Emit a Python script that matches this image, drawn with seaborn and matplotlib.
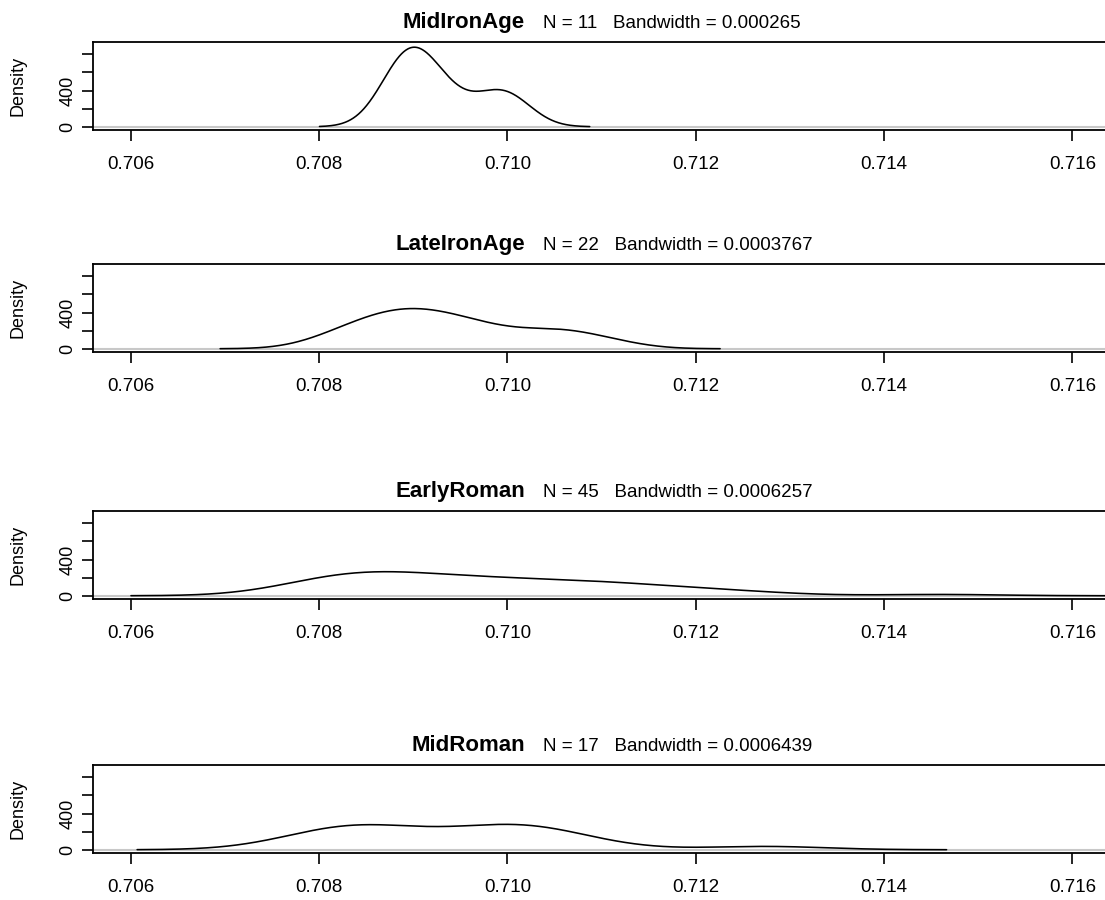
import numpy as np
import pandas as pd
import matplotlib
matplotlib.use("Agg")
import matplotlib.pyplot as plt
import seaborn as sns

# 87Sr/86Sr values per period (estimated from the density curves)
periods = ["MidIronAge", "LateIronAge", "EarlyRoman", "MidRoman"]
bandwidths = [0.000265, 0.0003767, 0.0006257, 0.0006439]
bw_labels = ["0.000265", "0.0003767", "0.0006257", "0.0006439"]

mid_iron_age = [0.70880, 0.70884, 0.70891, 0.70899, 0.70905, 0.70911,
                0.70922, 0.70943, 0.70982, 0.70995, 0.71008]

late_iron_age = [0.708080, 0.708263, 0.708431, 0.708556, 0.708658, 0.708754,
                 0.708842, 0.708930, 0.709017, 0.709104, 0.709201, 0.709305,
                 0.709408, 0.709527, 0.709660, 0.709800, 0.710000, 0.710300,
                 0.710480, 0.710620, 0.710780, 0.711130]

early_roman = [0.707880, 0.707936, 0.707993, 0.708049, 0.708105, 0.708162,
               0.708224, 0.708280, 0.708349, 0.708418, 0.708487, 0.708556,
               0.708625, 0.708693, 0.708768, 0.708850, 0.708937, 0.709025,
               0.709119, 0.709206, 0.709300, 0.709394, 0.709494, 0.709601,
               0.709707, 0.709807, 0.709914, 0.710020, 0.710133, 0.710258,
               0.710383, 0.710508, 0.710633, 0.710758, 0.710883, 0.711009,
               0.711134, 0.711259, 0.711415, 0.711615, 0.711822, 0.712072,
               0.712354, 0.712698, 0.714600]

mid_roman = [0.708000, 0.708077, 0.708180, 0.708296, 0.708438, 0.708592,
             0.708773, 0.708966, 0.709610, 0.709829, 0.709964, 0.710077,
             0.710186, 0.710299, 0.710434, 0.710653, 0.712733]

x_ticks = [0.706, 0.708, 0.710, 0.712, 0.714, 0.716]
x_tick_labels = ["0.706", "0.708", "0.710", "0.712", "0.714", "0.716"]
y_ticks = [0, 200, 400, 600, 800]
y_tick_labels = ["0", "", "400", "", ""]

samples = [mid_iron_age, late_iron_age, early_roman, mid_roman]
df = pd.concat([pd.DataFrame({"period": p, "ratio": v}) for p, v in zip(periods, samples)],
               ignore_index=True)

sns.set_theme(style="ticks", rc={
    "axes.linewidth": 1.3, "axes.edgecolor": "black",
    "xtick.major.size": 8, "ytick.major.size": 8,
    "xtick.major.width": 1.2, "ytick.major.width": 1.2,
    "xtick.color": "black", "ytick.color": "black",
    "text.color": "black",
})
plt.rcParams["font.family"] = ["Liberation Sans", "DejaVu Sans"]

W, H = 1105, 900
fig = plt.figure(figsize=(W / 100, H / 100), dpi=100)

# panel boxes in pixels: (top, bottom); right edge falls just outside the image
panel_px = [(42, 130), (264, 352), (511, 599), (765, 853)]
left_px, right_px = 93, 1110

for i, (period, (top, bot)) in enumerate(zip(periods, panel_px)):
    ax = fig.add_axes([left_px / W, 1 - bot / H, (right_px - left_px) / W, (bot - top) / H])
    sub = df[df["period"] == period]
    vals = sub["ratio"].to_numpy()
    ax.axhline(0, color="#c8c8c8", lw=1.5, zorder=1)
    sns.kdeplot(data=sub, x="ratio", bw_method=bandwidths[i] / np.std(vals, ddof=1),
                cut=3, gridsize=512, color="black", linewidth=1.15, ax=ax, zorder=3)
    ax.set_xlim(0.7056, 0.7164)
    ax.set_ylim(-36, 936)
    ax.set_xticks(x_ticks)
    ax.set_xticklabels(x_tick_labels, fontsize=13.5)
    ax.set_yticks(y_ticks)
    ax.set_yticklabels(y_tick_labels, rotation=90, va="center", fontsize=13)
    ax.tick_params(axis="x", pad=11)
    ax.tick_params(axis="y", pad=4)
    ax.set_xlabel("")
    ax.set_ylabel("")

    base = 1 - (top - 14) / H
    fig.text(525 / W, base, period, ha="right", va="baseline",
             fontsize=16, fontweight="bold")
    fig.text(543 / W, base, f"N = {len(vals)}   Bandwidth = {bw_labels[i]}",
             ha="left", va="baseline", fontsize=13.5)
    fig.text(18.5 / W, 1 - (top + bot) / 2 / H, "Density", rotation=90,
             ha="center", va="center", fontsize=13)

fig.savefig("out.png", dpi=100)
